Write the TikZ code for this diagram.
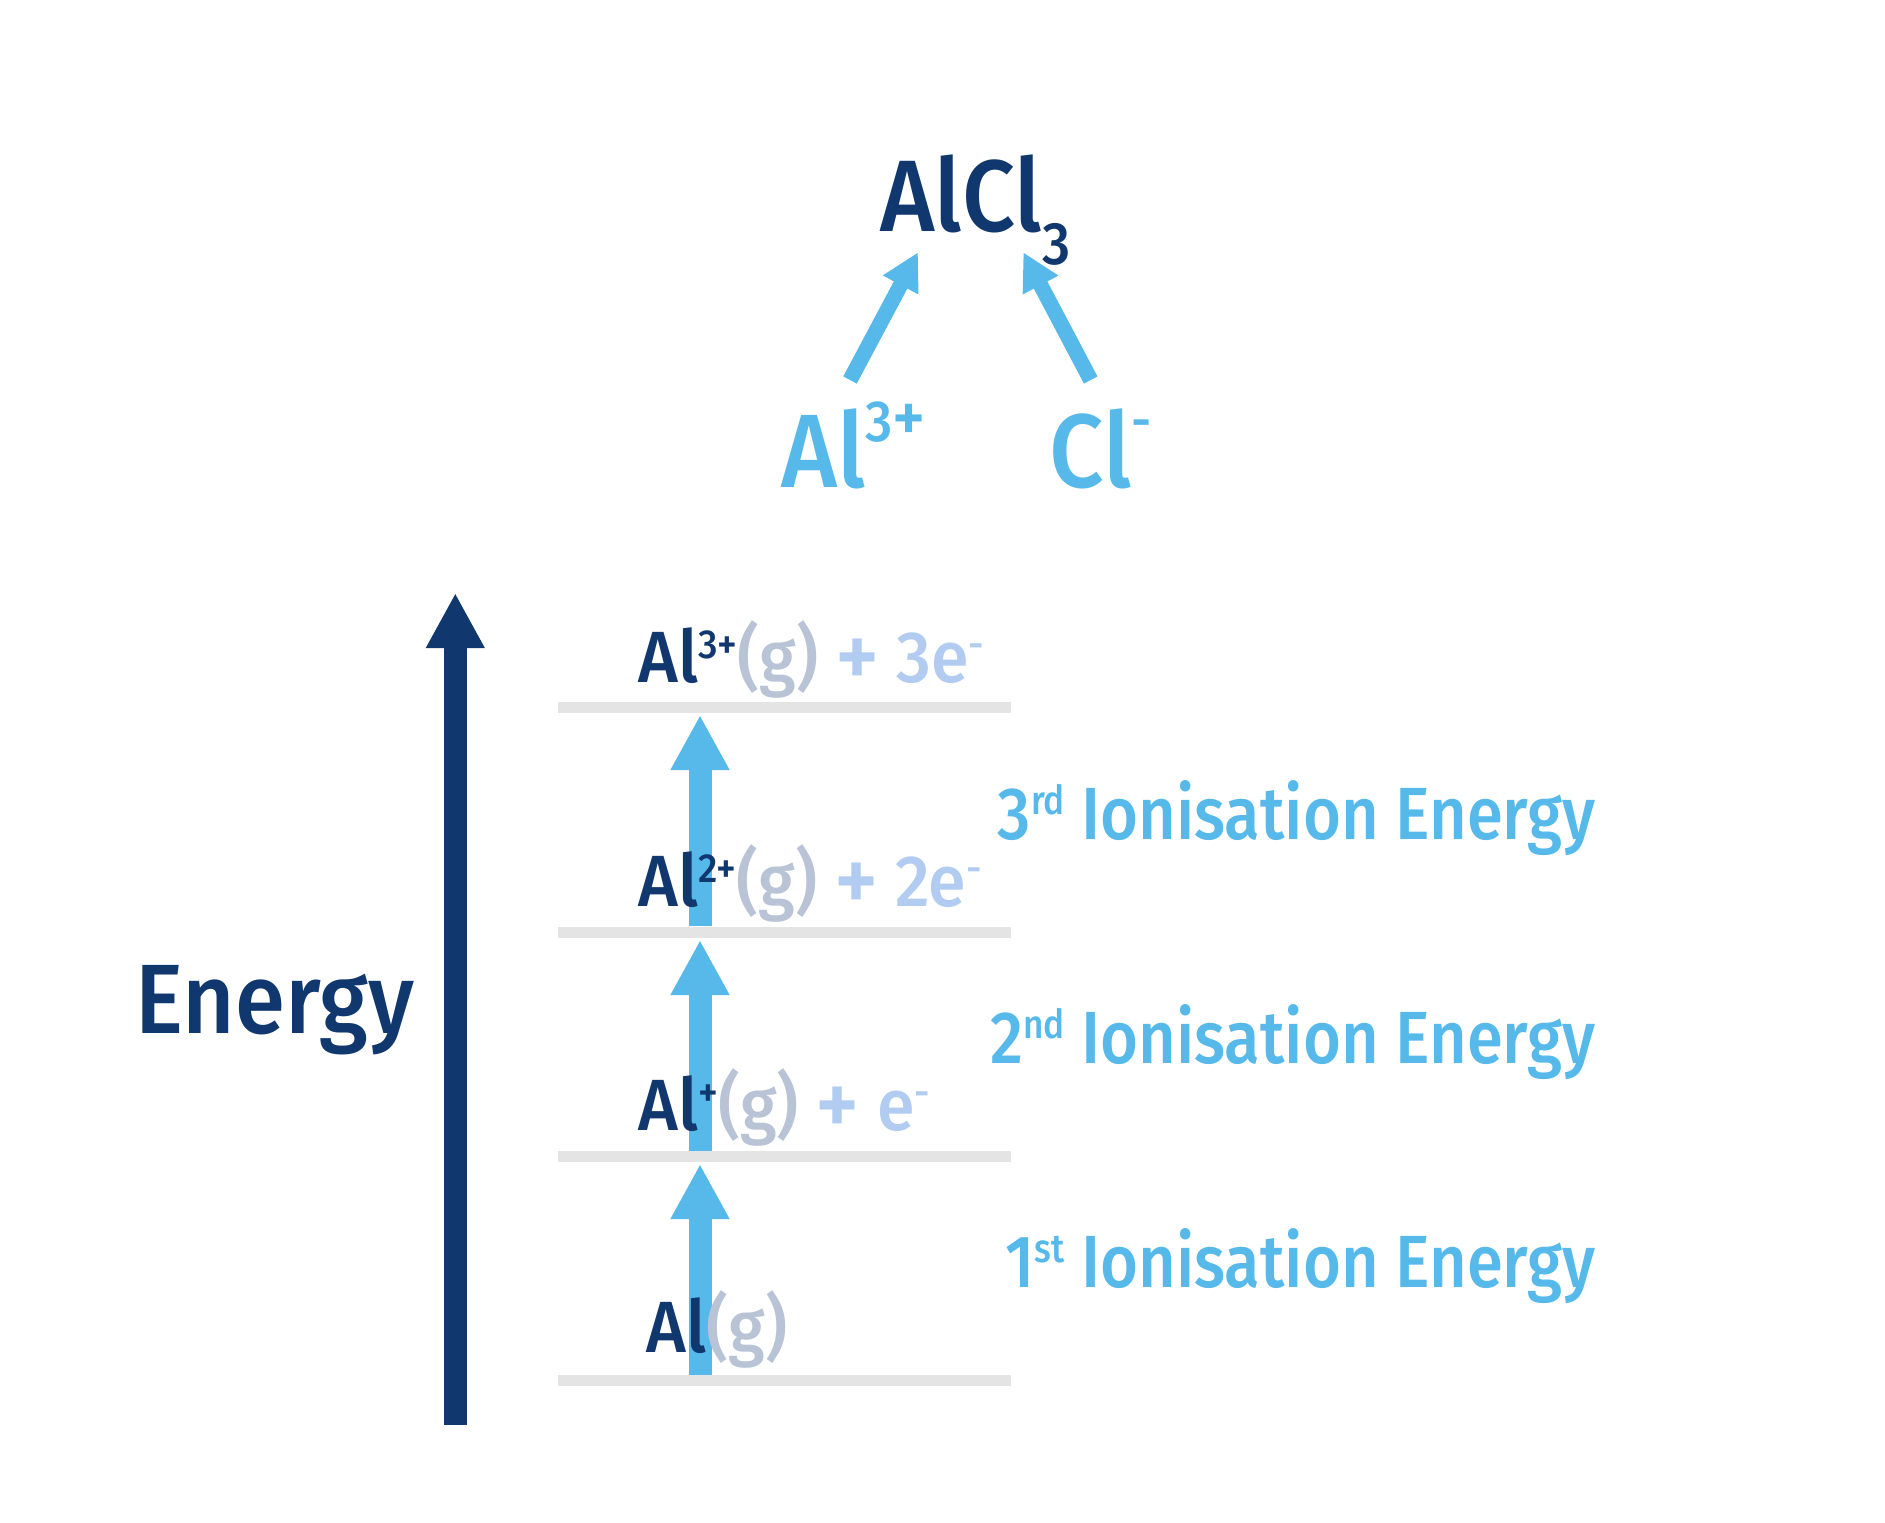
\documentclass[tikz,border=0pt]{standalone}
\usepackage{fontspec}
\IfFontExistsTF{Fira Sans Medium}
  {\def\myfam{Fira Sans Medium}}
  {\def\myfam{Fira Sans}}
\setmainfont{\myfam}[FakeStretch=0.92]
\newfontfamily\lvlfont{\myfam}[FakeStretch=0.94]
\newfontfamily\iefont{\myfam}[FakeStretch=0.88]
\usetikzlibrary{arrows.meta}
\definecolor{navy}{HTML}{10386E}
\definecolor{skyb}{HTML}{56B9EA}
\definecolor{greyg}{HTML}{B8C4D6}
\definecolor{pale}{HTML}{B1CCF0}
\definecolor{levelc}{HTML}{E4E4E4}
\newcommand\upx[3]{\raisebox{#2}{\fontsize{#1}{#1}\selectfont #3}}
\newcommand\dnx[3]{\raisebox{-#2}{\fontsize{#1}{#1}\selectfont #3}}
\newcommand\bplus{\raisebox{-2.5pt}{\scalebox{1.25}{+}}}
\begin{document}
\begin{tikzpicture}[x=0.5pt,y=-0.5pt,
  lvl/.style={draw=levelc, line width=5.5pt},
  iearrow/.style={draw=skyb, line width=11.5pt, -{Triangle[width=27.5pt,length=27.5pt]}},
  energyarrow/.style={draw=navy, line width=11.35pt, -{Triangle[width=27.4pt,length=27.5pt]}},
  formarrow/.style={draw=skyb, line width=7.65pt, -{Triangle[width=18.8pt,length=18.5pt]}},
  lab/.style={inner sep=0pt, anchor=base west, font=\lvlfont\fontsize{36.3pt}{40pt}\selectfont},
  ielab/.style={inner sep=0pt, anchor=base east, text=skyb, font=\iefont\fontsize{37pt}{40pt}\selectfont},
  bigion/.style={inner sep=0pt, anchor=base west, text=skyb, font=\fontsize{52.2pt}{56pt}\selectfont}]
\useasboundingbox (0,0) rectangle (1885,1522);
% energy levels
\coordinate (L0a) at (558,1380); \coordinate (L0b) at (1011,1380);
\coordinate (L1a) at (558,1156); \coordinate (L1b) at (1011,1156);
\coordinate (L2a) at (558,932);  \coordinate (L2b) at (1011,932);
\coordinate (L3a) at (558,707);  \coordinate (L3b) at (1011,707);
\draw[lvl] (L0a) -- (L0b);
\draw[lvl] (L1a) -- (L1b);
\draw[lvl] (L2a) -- (L2b);
\draw[lvl] (L3a) -- (L3b);
% ionisation arrows
\coordinate (a1s) at (700,1375); \coordinate (a1e) at (700,1164);
\coordinate (a2s) at (700,1151); \coordinate (a2e) at (700,940);
\coordinate (a3s) at (700,926);  \coordinate (a3e) at (700,715);
\draw[iearrow] (a1s) -- (a1e);
\draw[iearrow] (a2s) -- (a2e);
\draw[iearrow] (a3s) -- (a3e);
% energy axis
\coordinate (e0) at (455.3,1425); \coordinate (e1) at (455.3,593);
\draw[energyarrow] (e0) -- (e1);
\node[inner sep=0pt, anchor=base west, text=navy, font=\fontsize{49.3pt}{52pt}\selectfont] (energy) at (135,1033) {Energy};
% level labels
\node[lab] (s0) at (646,1352) {{\color{navy}Al}{\color{greyg}(g)}};
\node[lab] (s1) at (638,1130) {{\color{navy}Al\upx{20.3pt}{12pt}{+}}{\color{greyg}(g)}{\color{pale}\ \bplus\ e\upx{20.3pt}{12pt}{-}}};
\node[lab] (s2) at (638,906) {{\color{navy}Al\upx{20.3pt}{12pt}{2+}}{\color{greyg}(g)}{\color{pale}\ \bplus\ 2e\upx{20.3pt}{12pt}{-}}};
\node[lab] (s3) at (638,682) {{\color{navy}Al\upx{20.3pt}{12pt}{3+}}{\color{greyg}(g)}{\color{pale}\ \bplus\ 3e\upx{20.3pt}{12pt}{-}}};
% ionisation energy labels
\node[ielab] (ie1) at (1596,1287) {1\upx{20pt}{12.5pt}{st} Ionisation Energy};
\node[ielab] (ie2) at (1596,1063) {2\upx{20pt}{12.5pt}{nd} Ionisation Energy};
\node[ielab] (ie3) at (1596,839) {3\upx{20pt}{12.5pt}{rd} Ionisation Energy};
% formation
\node[inner sep=0pt, anchor=base west, text=navy, font=\fontsize{50.8pt}{54pt}\selectfont] (alcl) at (880,231) {AlCl\dnx{30pt}{16.5pt}{3}};
\node[bigion] (al) at (781,487) {Al\upx{29pt}{23pt}{3\scalebox{1.2}{+}}};
\node[bigion] (cl) at (1049,487) {Cl\upx{27pt}{24pt}{-}};
\coordinate (fa1) at (850,380); \coordinate (fa2) at (918,252.3);
\coordinate (fb1) at (1090.7,380); \coordinate (fb2) at (1023.3,252.3);
\draw[formarrow] (fa1) -- (fa2);
\draw[formarrow] (fb1) -- (fb2);
\end{tikzpicture}
\end{document}
